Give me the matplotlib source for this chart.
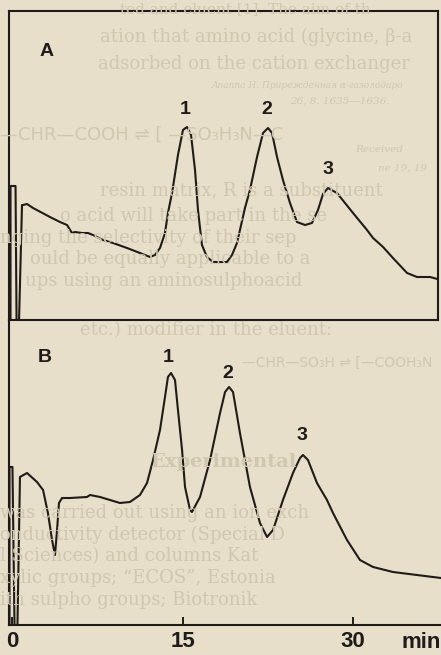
import matplotlib
matplotlib.use("Agg")
import matplotlib.pyplot as plt

# ---------------- data (time in min, detector response in arbitrary units) ----
time_a = [-0.13, -0.13, 0.31, 0.40, 0.62, 0.88, 0.97, 1.32, 1.85, 3.34, 4.22, 4.84,
          5.27, 5.54, 6.15, 6.68, 7.12, 8.00, 8.88, 10.11, 11.25, 12.13, 12.57,
          13.01, 13.45, 13.71, 14.07, 14.59, 15.03, 15.38, 15.74, 16.09, 16.35,
          16.70, 17.14, 17.67, 18.90, 19.34, 19.78, 20.48, 20.92, 21.54, 22.07,
          22.51, 22.86, 23.30, 23.82, 24.44, 25.05, 25.76, 26.37, 26.90, 27.34,
          27.78, 28.57, 29.98, 31.21, 31.74, 32.62, 33.49, 34.73, 35.60, 36.75,
          37.71]
signal_a = [0.0, 13.4, 13.4, 0.0, 0.0, 11.5, 11.5, 11.6, 11.2, 10.3, 9.8, 9.5,
            8.7, 8.8, 8.7, 8.7, 8.5, 8.0, 7.7, 7.2, 6.7, 6.3, 6.5,
            7.2, 8.7, 10.7, 12.7, 16.5, 19.0, 19.3, 18.5, 15.0, 11.0,
            7.5, 6.3, 5.8, 5.8, 6.5, 7.7, 11.2, 13.0, 16.3, 18.7,
            19.2, 18.7, 16.3, 14.0, 11.7, 9.8, 9.5, 9.7, 11.0, 12.6,
            13.2, 12.7, 10.7, 9.0, 8.2, 7.3, 6.2, 4.7, 4.3, 4.3,
            4.0]

time_b = [-0.22, -0.22, 0.04, 0.22, 0.48, 0.70, 1.32, 2.20, 2.73, 3.16, 3.52, 3.78,
          3.96, 4.13, 4.40, 5.10, 6.59, 6.86, 7.74, 9.49, 10.37, 11.25, 11.87,
          12.40, 13.01, 13.45, 13.71, 13.98, 14.33, 14.59, 14.95, 15.21, 15.65,
          15.82, 16.53, 17.41, 18.29, 18.73, 19.08, 19.43, 20.04, 20.92, 21.80,
          22.42, 22.95, 23.82, 24.70, 25.32, 25.58, 26.02, 26.81, 27.69, 28.22,
          29.45, 30.59, 31.74, 33.49, 35.60, 37.71]
signal_b = [0.0, 15.8, 15.8, 0.0, 0.0, 14.8, 15.2, 14.3, 13.5, 11.2, 8.5, 7.0,
            9.5, 12.2, 12.7, 12.7, 12.8, 13.0, 12.8, 12.2, 12.3, 13.0, 14.2,
            16.5, 19.5, 22.8, 24.8, 25.2, 24.5, 21.5, 17.5, 13.8, 11.5,
            11.3, 12.8, 16.5, 21.2, 23.3, 23.8, 23.3, 19.2, 13.8, 10.2,
            8.8, 9.5, 12.5, 15.2, 16.7, 17.0, 16.5, 14.2, 12.5, 11.2,
            8.5, 6.5, 5.8, 5.3, 5.0, 4.7]

peak_names = ["1", "2", "3"]
peak_label_time_a = [15.2, 22.4, 27.8]
peak_label_sig_a = [21.0, 21.0, 15.0]
peak_label_time_b = [13.7, 19.0, 25.5]
peak_label_sig_b = [26.8, 25.2, 19.0]
panel_names = ["A", "B"]

tick_values = [0, 15, 30]
tick_labels = ["0", "15", "30"]
x_unit = "min"

# faint show-through text of the printed page
bleed_text = [
    (37, 100, "ation that amino acid (glycine, β-a"),
    (64, 98, "adsorbed on the cation exchanger"),
    (190, 100, "resin matrix, R is a substituent"),
    (216, 60, "o acid will take part in the se"),
    (238, 0, "nging the selectivity of their sep"),
    (259, 30, "ould be equally applicable to a"),
    (281, 25, "ups using an aminosulphoacid"),
    (330, 80, "etc.) modifier in the eluent:"),
    (513, 0, "was carried out using an ion exch"),
    (535, 0, "onductivity detector (Special D"),
    (556, 0, "l Sciences) and columns Kat"),
    (578, 0, "xylic groups; \u201cECOS\u201d, Estonia"),
    (600, 0, "ith sulpho groups; Biotronik"),
]
bleed_top = [(9, 120, "ted and eluent [1]. The aim of th")]
bleed_formula = [
    (135, 0, "\u2014CHR\u2014COOH \u21cc [ \u2014SO\u2083H\u2083N\u2014C", 13),
    (363, 242, "\u2014CHR\u2014SO\u2083H \u21cc [\u2014COOH\u2083N", 10),
]
bleed_small = [
    (86, 212, "Ananna H. \u041f\u0440\u0438\u0440\u0435\u0436\u0434\u0435\u043d\u043d\u0430\u044f \u03b1-\u0433\u0430\u0437\u043e\u043b\u043e\u0434\u0430\u0440\u043e", 6.5),
    (101, 290, "26, 8. 1635\u20141636.", 7.5),
    (150, 355, "Received", 7.5),
    (168, 378, "ne 19, 19", 7.5),
]
bleed_heading = [(462, 150, "Experimental")]

# ---------------- style ------------------------------------------------------
W, H = 441, 655
paper = "#e7dfca"
ink = "#1f1b18"
ghost = "#d0c7b0"
lw = 1.5

fig = plt.figure(figsize=(W / 100, H / 100), dpi=100, facecolor=paper)

def fx(px):
    return px / W

def fy(py):
    return 1 - py / H

for y, x, s in bleed_text:
    fig.text(fx(x), fy(y), s, family="DejaVu Serif", fontsize=13, color=ghost,
             va="center", ha="left", zorder=0)
for y, x, s in bleed_top:
    fig.text(fx(x), fy(y), s, family="DejaVu Serif", fontsize=11, color=ghost,
             va="center", ha="left", zorder=0)
for y, x, s, fs in bleed_formula:
    fig.text(fx(x), fy(y), s, family="DejaVu Sans", fontsize=fs, color=ghost,
             va="center", ha="left", zorder=0)
for y, x, s, fs in bleed_small:
    fig.text(fx(x), fy(y), s, family="DejaVu Serif", fontsize=fs, style="italic",
             color=ghost, va="center", ha="left", zorder=0)
for y, x, s in bleed_heading:
    fig.text(fx(x), fy(y), s, family="DejaVu Serif", fontsize=14, weight="bold",
             color=ghost, va="center", ha="left", zorder=0)

x0_px, px_per_min = 12.0, 11.375
left_px = 8.5

# panel A
axA = fig.add_axes([fx(left_px), fy(320), fx(438 - left_px), (320 - 11) / H])
axA.set_facecolor("none")
axA.plot(time_a, signal_a, color=ink, lw=lw, solid_joinstyle="round")
axA.set_xlim((left_px - x0_px) / px_per_min, (438 - x0_px) / px_per_min)
axA.set_ylim(0, 30.9)
axA.set_xticks([])
axA.set_yticks([])
for sp in axA.spines.values():
    sp.set_color(ink)
    sp.set_linewidth(lw)
axA.text(3.08, 26.8, panel_names[0], fontsize=14, fontweight="bold",
         family="Liberation Sans", color=ink, ha="center", va="center")
for n, t, s in zip(peak_names, peak_label_time_a, peak_label_sig_a):
    axA.text(t, s, n, fontsize=14, fontweight="bold", family="Liberation Sans",
             color=ink, ha="center", va="center")

# panel B
axB = fig.add_axes([fx(left_px), fy(625), fx(W + 2 - left_px), (625 - 320) / H])
axB.set_facecolor("none")
axB.plot(time_b, signal_b, color=ink, lw=lw, solid_joinstyle="round")
axB.set_xlim((left_px - x0_px) / px_per_min, (W + 2 - x0_px) / px_per_min)
axB.set_ylim(0, 30.5)
axB.set_yticks([])
axB.spines["top"].set_visible(False)
axB.spines["right"].set_visible(False)
for sp in ("left", "bottom"):
    axB.spines[sp].set_color(ink)
    axB.spines[sp].set_linewidth(lw)
axB.set_xticks(tick_values)
axB.set_xticklabels(tick_labels)
axB.tick_params(axis="x", direction="in", length=6, width=1.4, color=ink, pad=4)
for lab in axB.get_xticklabels():
    lab.set_fontsize(16)
    lab.set_fontweight("bold")
    lab.set_family("Liberation Sans")
    lab.set_color(ink)
axB.text(2.9, 26.7, panel_names[1], fontsize=14, fontweight="bold",
         family="Liberation Sans", color=ink, ha="center", va="center")
for n, t, s in zip(peak_names, peak_label_time_b, peak_label_sig_b):
    axB.text(t, s, n, fontsize=14, fontweight="bold", family="Liberation Sans",
             color=ink, ha="center", va="center")
fig.text(fx(421), fy(643), x_unit, fontsize=16, fontweight="bold",
         family="Liberation Sans", color=ink, ha="center", va="center")

fig.savefig("out.png", dpi=100, facecolor=paper)
